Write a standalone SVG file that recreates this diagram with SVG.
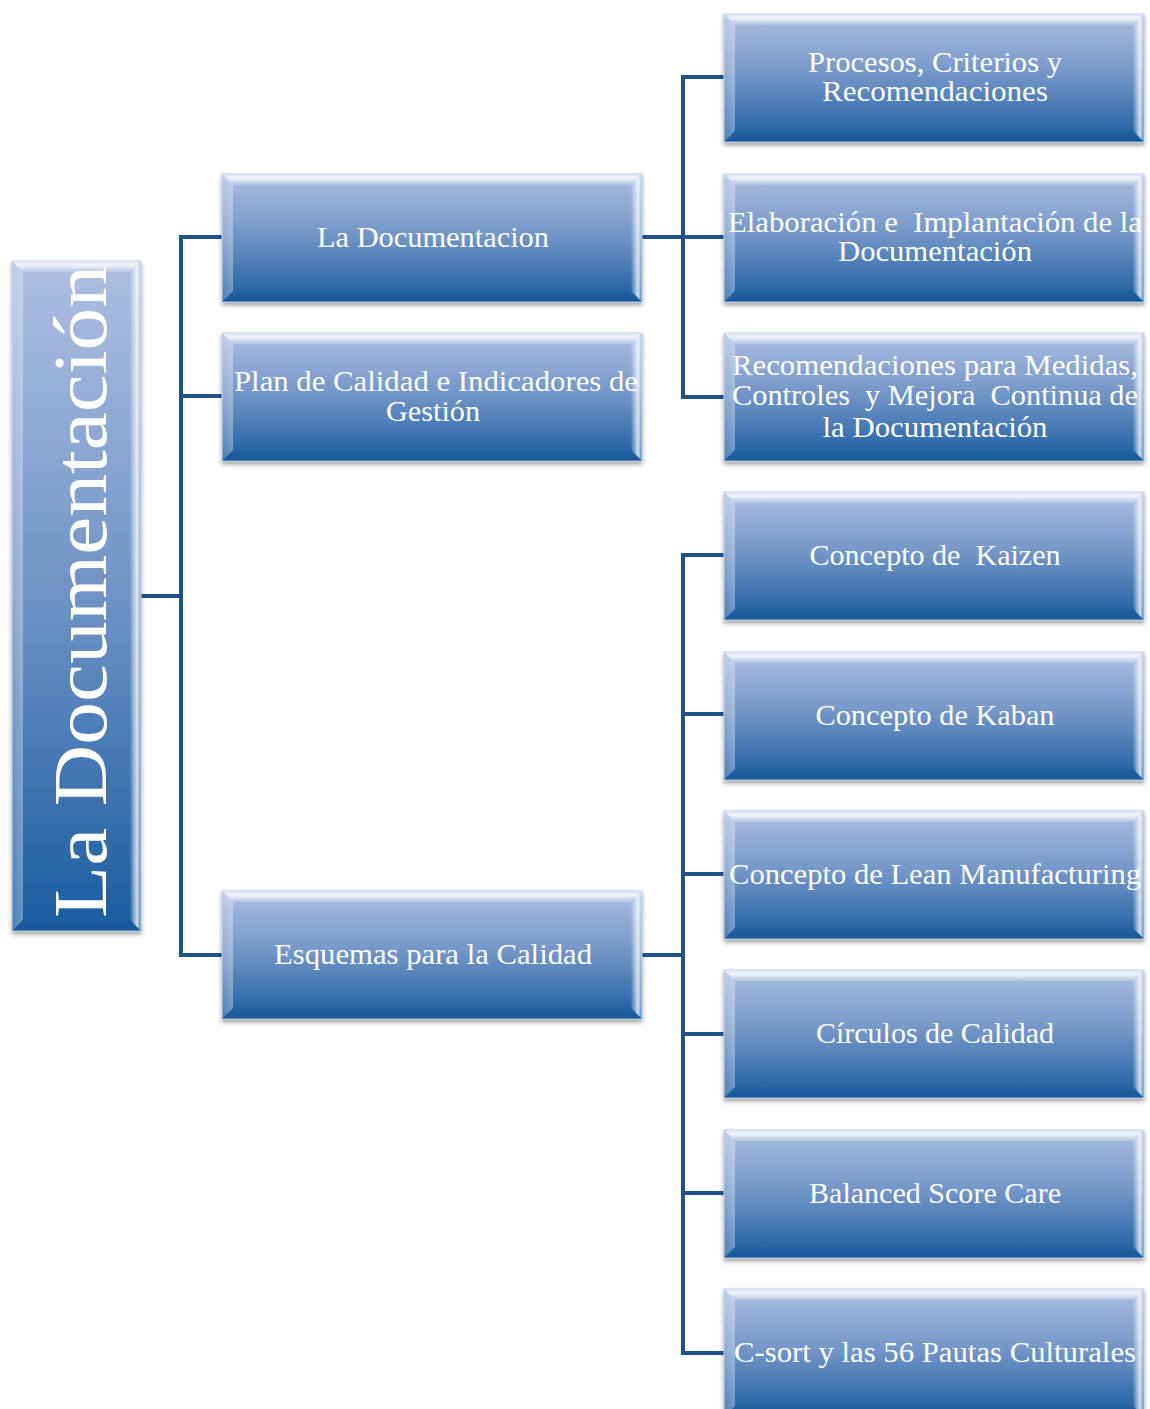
<svg xmlns="http://www.w3.org/2000/svg" xmlns:xlink="http://www.w3.org/1999/xlink" width="1150" height="1409" viewBox="0 0 1150 1409">
<style>
.lbl{font-family:"Liberation Serif","DejaVu Serif",serif;font-size:29px;fill:#ffffff;text-anchor:middle;white-space:pre}
.root{font-family:"Liberation Serif","DejaVu Serif",serif;font-size:76px;fill:#ffffff;text-anchor:middle}
.conn{fill:none;stroke:#21538a;stroke-width:4;stroke-linejoin:miter}
</style>
<defs>
<linearGradient id="gMain" x1="0" y1="0" x2="0" y2="1">
<stop offset="0" stop-color="#aebfe2"/>
<stop offset="0.5" stop-color="#6f93c5"/>
<stop offset="1" stop-color="#195ca1"/>
</linearGradient>
<linearGradient id="gTop" x1="0" y1="0" x2="0" y2="1">
<stop offset="0" stop-color="#ffffff" stop-opacity="0.5"/>
<stop offset="0.35" stop-color="#ffffff" stop-opacity="0.85"/>
<stop offset="1" stop-color="#ffffff" stop-opacity="0.15"/>
</linearGradient>
<linearGradient id="gRight" x1="1" y1="0" x2="0" y2="0">
<stop offset="0" stop-color="#ffffff" stop-opacity="0.15"/>
<stop offset="0.35" stop-color="#ffffff" stop-opacity="0.8"/>
<stop offset="1" stop-color="#ffffff" stop-opacity="0.05"/>
</linearGradient>
<linearGradient id="gLeft" x1="0" y1="0" x2="1" y2="0">
<stop offset="0" stop-color="#ffffff" stop-opacity="0.2"/>
<stop offset="1" stop-color="#ffffff" stop-opacity="0.35"/>
</linearGradient>
<filter id="shadow" x="-5%" y="-5%" width="110%" height="115%">
<feDropShadow dx="0" dy="3" stdDeviation="2" flood-color="#000000" flood-opacity="0.35"/>
</filter>
<g id="box">
<rect x="0" y="0" width="420" height="128" fill="url(#gMain)" stroke="#b9c9e6" stroke-width="1" filter="url(#shadow)"/>
<polygon points="0,0 420,0 409,11 11,11" fill="url(#gTop)"/>
<polygon points="0,0 11,11 11,117 0,128" fill="url(#gLeft)"/>
<polygon points="420,0 420,128 409,117 409,11" fill="url(#gRight)"/>
<polygon points="0,128 11,117 409,117 420,128" fill="#0c3e77" fill-opacity="0.12"/>
</g>
</defs>

<g id="connectors">
<polyline class="conn" points="141,596 181,596"/>
<polyline class="conn" points="222,237 181,237 181,955 222,955"/>
<polyline class="conn" points="181,396 222,396"/>
<polyline class="conn" points="642,237 683,237"/>
<polyline class="conn" points="724,77 683,77 683,397 724,397"/>
<polyline class="conn" points="683,237 724,237"/>
<polyline class="conn" points="642,955 683,955"/>
<polyline class="conn" points="724,555 683,555 683,1353 724,1353"/>
<polyline class="conn" points="683,714 724,714"/>
<polyline class="conn" points="683,874 724,874"/>
<polyline class="conn" points="683,1034 724,1034"/>
<polyline class="conn" points="683,1193 724,1193"/>
</g>

<g id="n-root">
<rect x="12" y="261" width="129" height="670" fill="url(#gMain)" stroke="#b9c9e6" stroke-width="1" filter="url(#shadow)"/>
<polygon points="12,261 141,261 130,272 23,272" fill="url(#gTop)"/>
<polygon points="12,261 23,272 23,920 12,931" fill="url(#gLeft)"/>
<polygon points="141,261 141,931 130,920 130,272" fill="url(#gRight)"/>
<polygon points="12,931 23,920 130,920 141,931" fill="#0c3e77" fill-opacity="0.12"/>
<text class="root" transform="translate(106,591.5) rotate(-90)" textLength="653" lengthAdjust="spacingAndGlyphs">La Documentación</text>
</g>

<g id="n-doc" transform="translate(222,174)">
<use xlink:href="#box"/>
<text class="lbl" x="211" y="73" textLength="232" lengthAdjust="spacingAndGlyphs">La Documentacion</text>
</g>
<g id="n-plan" transform="translate(222,333)">
<use xlink:href="#box"/>
<text class="lbl" x="214" y="58" textLength="404" lengthAdjust="spacingAndGlyphs">Plan de Calidad e Indicadores de</text>
<text class="lbl" x="211" y="88" textLength="94" lengthAdjust="spacingAndGlyphs">Gestión</text>
</g>
<g id="n-esq" transform="translate(222,891)">
<use xlink:href="#box"/>
<text class="lbl" x="211" y="73" textLength="318" lengthAdjust="spacingAndGlyphs">Esquemas para la Calidad</text>
</g>

<g id="n-procesos" transform="translate(724,14)">
<use xlink:href="#box"/>
<text class="lbl" x="211" y="58" textLength="254" lengthAdjust="spacingAndGlyphs">Procesos, Criterios y</text>
<text class="lbl" x="211" y="87" textLength="226" lengthAdjust="spacingAndGlyphs">Recomendaciones</text>
</g>
<g id="n-elab" transform="translate(724,174)">
<use xlink:href="#box"/>
<text class="lbl" x="211" y="58" textLength="414" lengthAdjust="spacingAndGlyphs">Elaboración e  Implantación de la</text>
<text class="lbl" x="211" y="87" textLength="194" lengthAdjust="spacingAndGlyphs">Documentación</text>
</g>
<g id="n-recom" transform="translate(724,333)">
<use xlink:href="#box"/>
<text class="lbl" x="211" y="42" textLength="406" lengthAdjust="spacingAndGlyphs">Recomendaciones para Medidas,</text>
<text class="lbl" x="211" y="72" textLength="406" lengthAdjust="spacingAndGlyphs">Controles  y Mejora  Continua de</text>
<text class="lbl" x="211" y="104" textLength="225" lengthAdjust="spacingAndGlyphs">la Documentación</text>
</g>
<g id="n-kaizen" transform="translate(724,492)">
<use xlink:href="#box"/>
<text class="lbl" x="211" y="73" textLength="251" lengthAdjust="spacingAndGlyphs">Concepto de  Kaizen</text>
</g>
<g id="n-kaban" transform="translate(724,652)">
<use xlink:href="#box"/>
<text class="lbl" x="211" y="73" textLength="239" lengthAdjust="spacingAndGlyphs">Concepto de Kaban</text>
</g>
<g id="n-lean" transform="translate(724,811)">
<use xlink:href="#box"/>
<text class="lbl" x="211" y="73" textLength="412" lengthAdjust="spacingAndGlyphs">Concepto de Lean Manufacturing</text>
</g>
<g id="n-circulos" transform="translate(724,970)">
<use xlink:href="#box"/>
<text class="lbl" x="211" y="73" textLength="238" lengthAdjust="spacingAndGlyphs">Círculos de Calidad</text>
</g>
<g id="n-balanced" transform="translate(724,1130)">
<use xlink:href="#box"/>
<text class="lbl" x="211" y="73" textLength="252" lengthAdjust="spacingAndGlyphs">Balanced Score Care</text>
</g>
<g id="n-csort" transform="translate(724,1289)">
<use xlink:href="#box"/>
<text class="lbl" x="211" y="73" textLength="402" lengthAdjust="spacingAndGlyphs">C-sort y las 56 Pautas Culturales</text>
</g>
</svg>
